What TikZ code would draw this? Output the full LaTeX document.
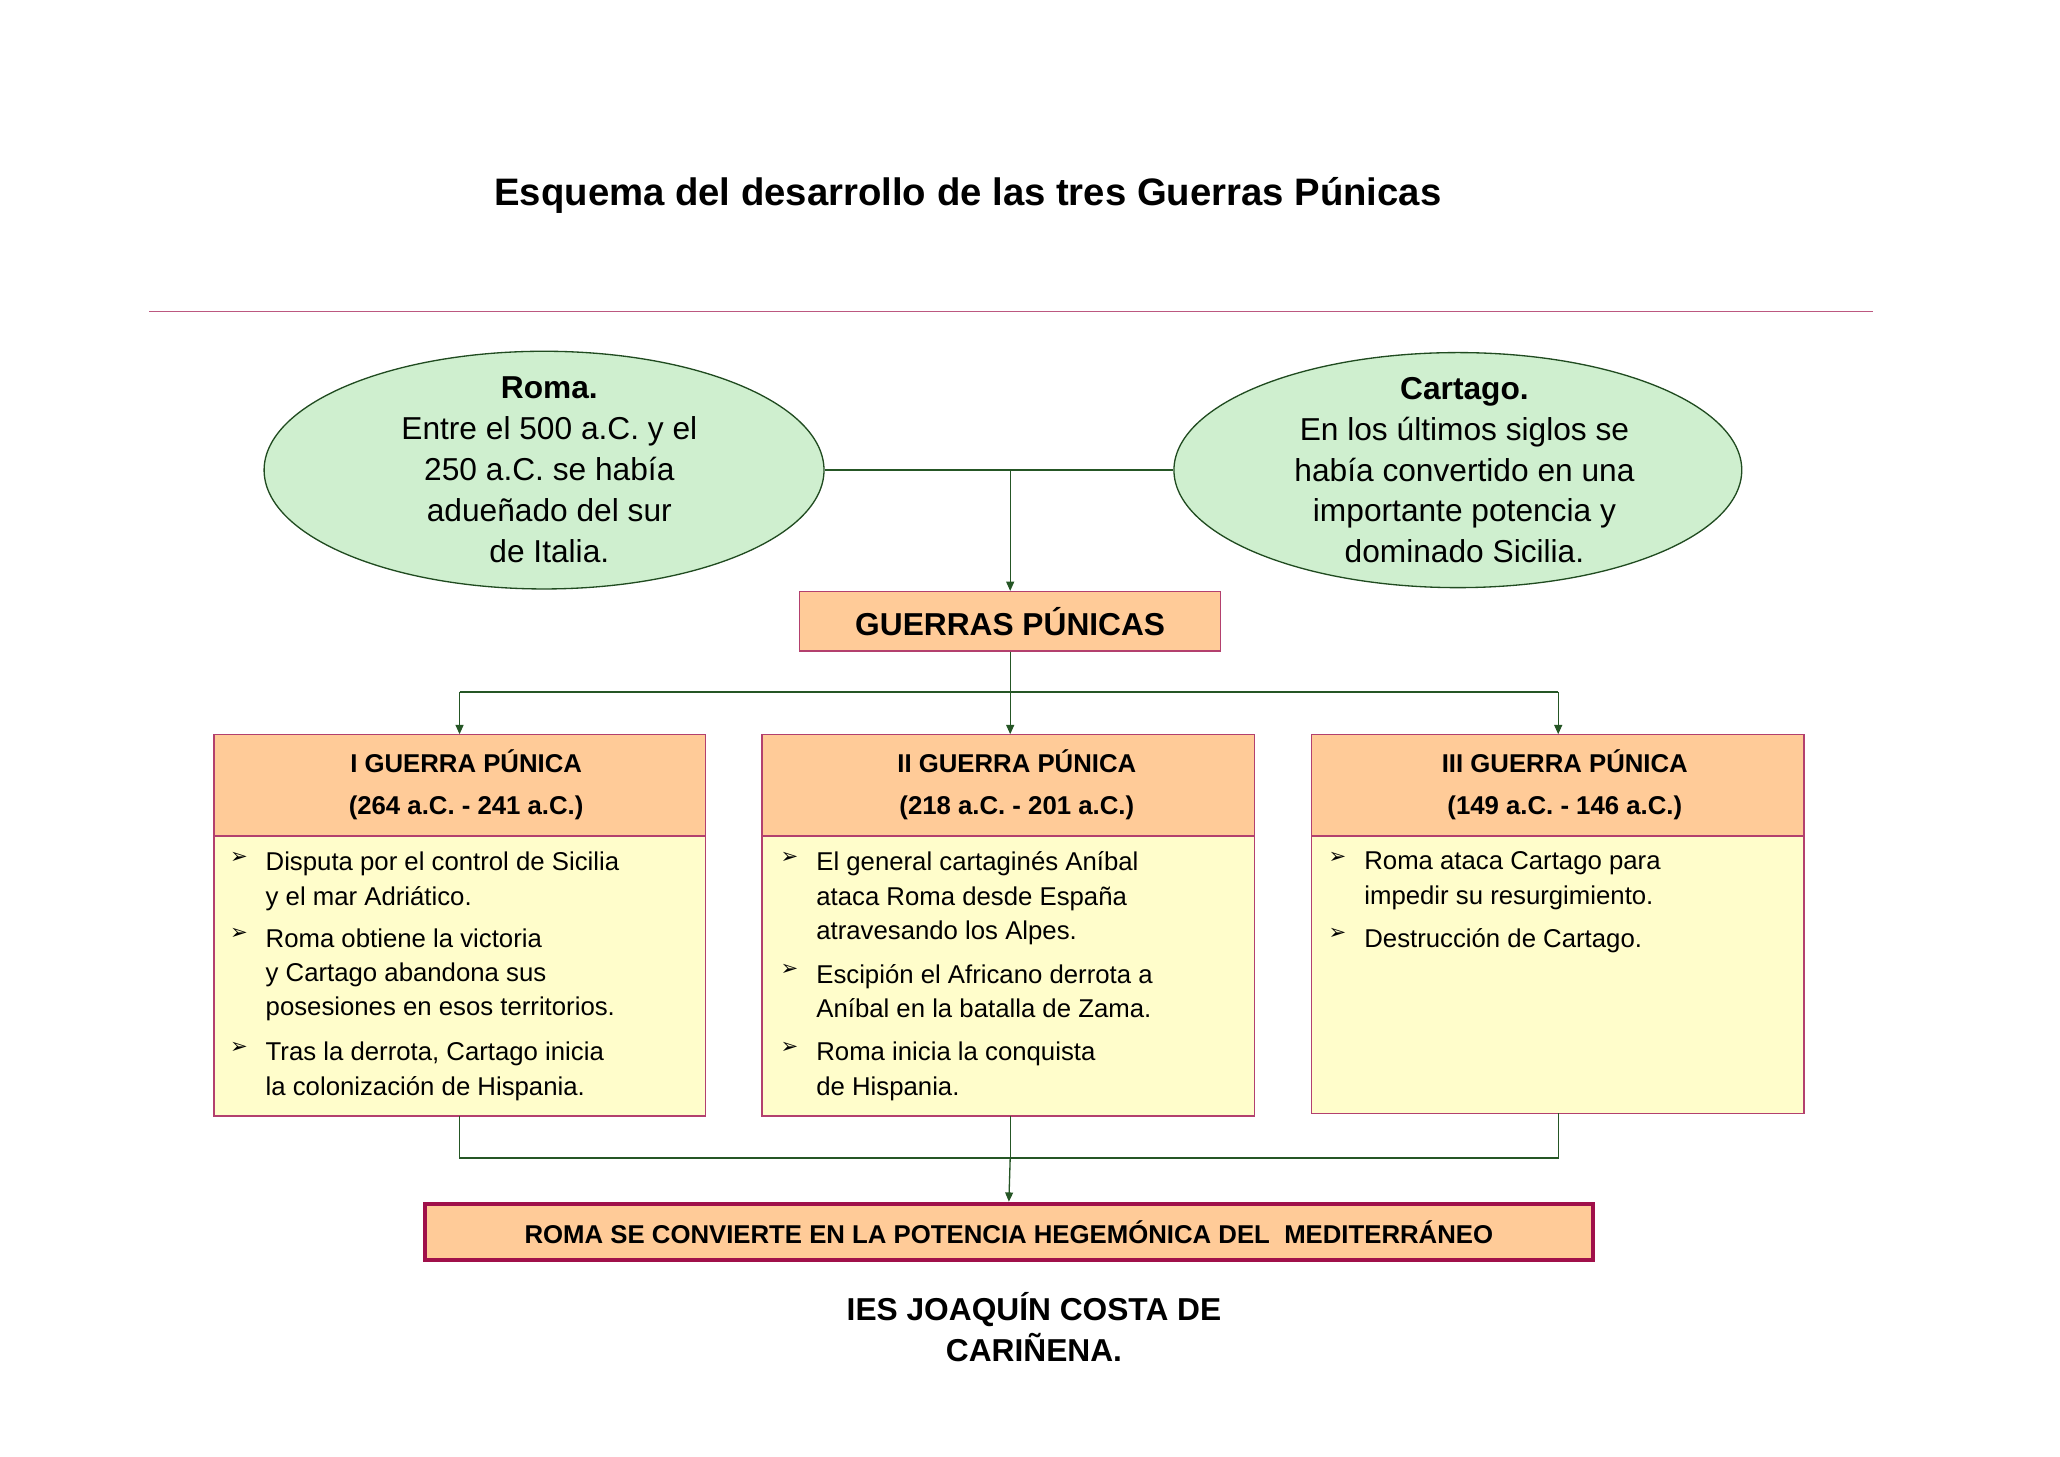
\documentclass[tikz,border=0pt]{standalone}
\usepackage{fontspec}
\setmainfont{Liberation Sans}
\newfontfamily\djfont{DejaVu Sans}
\usetikzlibrary{shapes.geometric,arrows.meta}
\definecolor{gr}{HTML}{2E6B2E}
\definecolor{crim}{HTML}{A0104A}
\definecolor{peach}{HTML}{FFCB98}
\definecolor{cream}{HTML}{FFFDCB}
\definecolor{lgreen}{HTML}{CFEFCF}
\tikzset{
 conn/.style={draw=gr!80!black,line width=1pt},
 arr/.style={conn,-{Triangle[length=7pt,width=6pt]}},
 ell/.style={ellipse,draw=gr!70!black,fill=lgreen,line width=1pt,align=center,font=\fontsize{24}{31}\selectfont,inner sep=0pt},
 bt/.style={anchor=north west,align=left,inner sep=0pt,font=\fontsize{19.5}{26}\selectfont},
 bu/.style={anchor=north west,inner sep=0pt,font=\djfont\fontsize{16}{26}\selectfont},
 hd/.style={align=center,font=\bfseries\fontsize{19.5}{32}\selectfont},
}
\begin{document}
\begin{tikzpicture}[x=1pt,y=-1pt]
\useasboundingbox (0,0) rectangle (1560,1103);
\node[font=\bfseries\fontsize{29}{34}\selectfont] (title) at (733,148) {Esquema del desarrollo de las tres Guerras Púnicas};
\coordinate (l1) at (113,236); \coordinate (l2) at (1418,236);
\draw[crim!70,line width=1pt] (l1) -- (l2);
\node[ell,minimum width=424pt,minimum height=180pt] (roma) at (412,356) {};
\node[font=\fontsize{24}{31}\selectfont,align=center] at (416,356) {\textbf{Roma.}\\Entre el 500 a.C. y el\\250 a.C. se había\\adueñado del sur\\de Italia.};
\node[ell,minimum width=430pt,minimum height=178pt] (cart) at (1104,356) {};
\node[font=\fontsize{24}{31}\selectfont,align=center] at (1109,356) {\textbf{Cartago.}\\En los últimos siglos se\\había convertido en una\\importante potencia y\\dominado Sicilia.};
\node[draw=crim!80,fill=peach,line width=1pt,minimum width=319pt,minimum height=45pt,font=\bfseries\fontsize{24}{28}\selectfont] (gp) at (765,470.5) {GUERRAS PÚNICAS};
\coordinate (m) at (765,356);
\draw[conn] (roma.east) -- (cart.west);
\draw[arr] (m) -- (gp.north);
% three boxes
\foreach \n/\x/\w/\h in {b1/162/372/289, b2/577/373/289, b3/993/373/287}{
 \fill[cream] (\x,556) rectangle ++(\w,\h);
 \fill[peach] (\x,556) rectangle ++(\w,77);
 \draw[crim!80,line width=1pt] (\x,633) -- ++(\w,0);
 \draw[crim!80,line width=1pt] (\x,556) rectangle ++(\w,\h);
}
\node[hd] (h1) at (353,594) {I GUERRA PÚNICA\\(264 a.C. - 241 a.C.)};
\node[hd] (h2) at (770,594) {II GUERRA PÚNICA\\(218 a.C. - 201 a.C.)};
\node[hd] (h3) at (1185,594) {III GUERRA PÚNICA\\(149 a.C. - 146 a.C.)};
\coordinate (t1) at (348,556); \coordinate (t2) at (765,556); \coordinate (t3) at (1180,556);
\coordinate (j1) at (348,524); \coordinate (j2) at (765,524); \coordinate (j3) at (1180,524);
\draw[conn] (gp.south) -- (j2); \draw[conn] (j1) -- (j3);
\draw[arr] (j1) -- (t1); \draw[arr] (j2) -- (t2); \draw[arr] (j3) -- (t3);
% bullets
\foreach \x/\y/\t in {
 201/645/{Disputa por el control de Sicilia\\y el mar Adriático.},
 201/703/{Roma obtiene la victoria\\y Cartago abandona sus\\posesiones en esos territorios.},
 201/789/{Tras la derrota, Cartago inicia\\la colonización de Hispania.},
 618/645/{El general cartaginés Aníbal\\ataca Roma desde España\\atravesando los Alpes.},
 618/730/{Escipión el Africano derrota a\\Aníbal en la batalla de Zama.},
 618/789/{Roma inicia la conquista\\de Hispania.},
 1033/645/{Roma ataca Cartago para\\impedir su resurgimiento.},
 1033/703/{Destrucción de Cartago.}}{
 \node[bt] at (\x,\y) {\t};
 \node[bu] at (\x-27,\y) {➢};
}
% bottom
\coordinate (k1) at (348,877); \coordinate (k2) at (765,877); \coordinate (k3) at (1180,877);
\coordinate (s1) at (348,845); \coordinate (s2) at (765,845); \coordinate (s3) at (1180,843);
\draw[conn] (s1) -- (k1) -- (k3) -- (s3);
\draw[conn] (s2) -- (k2);
\node[draw=crim,fill=peach,line width=3pt,minimum width=885pt,minimum height=43pt,font=\bfseries\fontsize{19.5}{24}\selectfont] (fin) at (764,933) {ROMA SE CONVIERTE EN LA POTENCIA HEGEMÓNICA DEL\ \ MEDITERRÁNEO};
\draw[arr] (k2) -- (fin.north);
\node[font=\bfseries\fontsize{24}{31}\selectfont,align=center] (foot) at (783,1005) {IES JOAQUÍN COSTA DE\\CARIÑENA.};
\end{tikzpicture}
\end{document}
